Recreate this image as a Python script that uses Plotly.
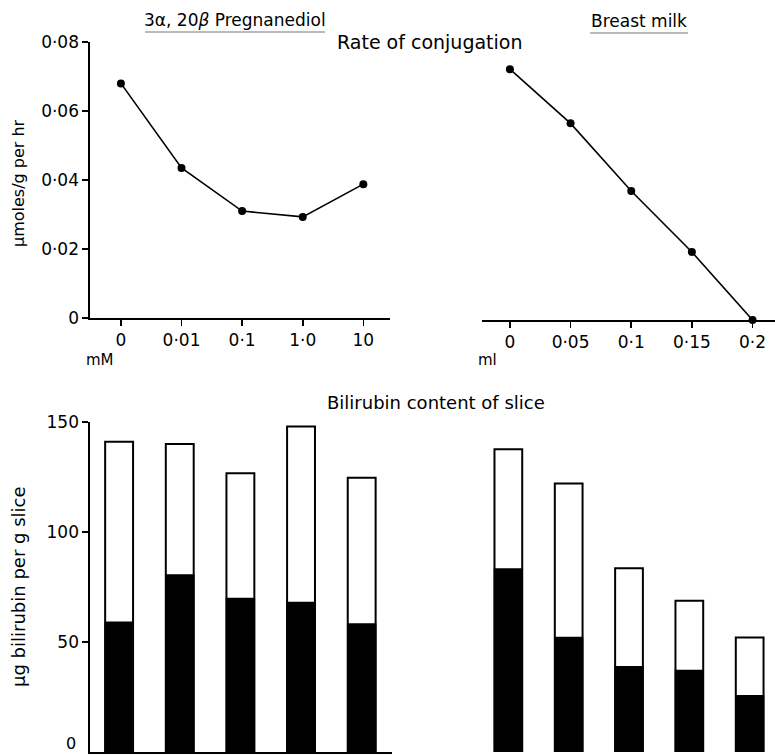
import plotly.graph_objects as go

# ---- data ----
preg_conc = ["0", "0·01", "0·1", "1·0", "10"]
preg_rate = [0.068, 0.0435, 0.031, 0.0293, 0.0388]

milk_vol = ["0", "0·05", "0·1", "0·15", "0·2"]
milk_rate = [0.0727, 0.057, 0.0374, 0.0197, 0.0]

preg_total = [141, 140, 126.7, 147.9, 124.7]
preg_conj = [59, 80.5, 69.8, 67.9, 58.2]

milk_total = [137.6, 122.1, 83.5, 68.8, 52]
milk_conj = [83.2, 52, 38.8, 37, 25.6]

rate_ticks = [0, 0.02, 0.04, 0.06, 0.08]
rate_ticktext = ["0", "0·02", "0·04", "0·06", "0·08"]
bili_ticks = [0, 50, 100, 150]

FONT = "DejaVu Sans"
W, H = 775, 755

def px(x):
    return x / W

def py(y):
    return 1 - y / H

fig = go.Figure()

line_style = dict(color="black", width=1.6)
marker_style = dict(color="black", size=8)

fig.add_trace(go.Scatter(x=preg_conc, y=preg_rate, mode="lines+markers",
                         line=line_style, marker=marker_style,
                         xaxis="x", yaxis="y", cliponaxis=False, showlegend=False))
fig.add_trace(go.Scatter(x=milk_vol, y=milk_rate, mode="lines+markers",
                         line=line_style, marker=marker_style,
                         xaxis="x2", yaxis="y2", cliponaxis=False, showlegend=False))

bar_w = 0.46
open_bar = dict(color="white", line=dict(color="black", width=2))
solid_bar = dict(color="black", line=dict(color="black", width=1.5))

fig.add_trace(go.Bar(x=preg_conc, y=preg_total, width=bar_w, marker=open_bar,
                     xaxis="x3", yaxis="y3", showlegend=False))
fig.add_trace(go.Bar(x=preg_conc, y=preg_conj, width=bar_w, marker=solid_bar,
                     xaxis="x3", yaxis="y3", showlegend=False))
fig.add_trace(go.Bar(x=milk_vol, y=milk_total, width=bar_w, marker=open_bar,
                     xaxis="x4", yaxis="y4", showlegend=False))
fig.add_trace(go.Bar(x=milk_vol, y=milk_conj, width=bar_w, marker=solid_bar,
                     xaxis="x4", yaxis="y4", showlegend=False))

tickfont = dict(family=FONT, size=17, color="black")

common_x = dict(type="category", showgrid=False, zeroline=False, automargin=False,
                showline=True, linecolor="black", linewidth=1.6,
                ticks="outside", ticklen=6, tickwidth=1.6, tickcolor="black",
                tickfont=tickfont, fixedrange=True)

fig.update_layout(
    width=W, height=H,
    margin=dict(l=0, r=0, t=0, b=0, autoexpand=False),
    paper_bgcolor="white", plot_bgcolor="rgba(0,0,0,0)",
    barmode="overlay",
    xaxis=dict(common_x, domain=[px(90), px(390)], range=[-0.51, 4.44], anchor="y"),
    yaxis=dict(domain=[py(318), py(42)], range=[0, 0.08], anchor="x",
               tickvals=rate_ticks, ticktext=rate_ticktext, automargin=False,
               showgrid=False, zeroline=False, showline=True, linecolor="black",
               linewidth=1.6, ticks="outside", ticklen=6, tickwidth=1.6,
               tickcolor="black", tickfont=tickfont, fixedrange=True),
    xaxis2=dict(common_x, domain=[px(482), 1.0], range=[-0.46, 4.37], anchor="y2"),
    yaxis2=dict(domain=[py(320), py(44)], range=[0, 0.08], anchor="x2",
                visible=False, automargin=False, fixedrange=True),
    xaxis3=dict(type="category", domain=[px(90), px(392)], range=[-0.48, 4.5], anchor="y3",
                showgrid=False, zeroline=False, showline=True, linecolor="black",
                linewidth=1.6, ticks="", showticklabels=False, automargin=False,
                fixedrange=True),
    yaxis3=dict(domain=[py(752), py(422)], range=[0, 150], anchor="x3",
                tickvals=bili_ticks[1:], showgrid=False, zeroline=False, showline=True,
                linecolor="black", linewidth=1.6, ticks="outside", ticklen=6,
                tickwidth=1.6, tickcolor="black", tickfont=tickfont,
                automargin=False, fixedrange=True),
    xaxis4=dict(type="category", domain=[px(480), 1.0], range=[-0.47, 4.42], anchor="y4",
                showgrid=False, zeroline=False, showline=False, ticks="",
                showticklabels=False, automargin=False, fixedrange=True),
    yaxis4=dict(domain=[py(752), py(422)], range=[0, 150], anchor="x4",
                visible=False, automargin=False, fixedrange=True),
)

def note(text, x, y, angle=0, size=15):
    fig.add_annotation(text=text, x=px(x), y=py(y), xref="paper", yref="paper",
                       showarrow=False, textangle=angle,
                       font=dict(family=FONT, size=size, color="black"),
                       xanchor="center", yanchor="middle")

note("3α, 20<i>β</i> Pregnanediol", 235, 20, size=17)
note("Breast milk", 639, 21, size=17)
note("Rate of conjugation", 430, 42, size=19)
note("mM", 100, 360, size=15)
note("ml", 487, 360, size=15)
note("Bilirubin content of slice", 436, 402, size=18)
note("μmoles/g per hr", 18, 183, angle=-90, size=16)
note("μg bilirubin per g slice", 18, 587, angle=-90, size=18)
# zero label of the bilirubin axis (sits at the very bottom edge)
fig.add_annotation(text=str(bili_ticks[0]), x=px(78), y=py(755), xref="paper",
                   yref="paper", showarrow=False, xanchor="right", yanchor="bottom",
                   font=dict(family=FONT, size=16, color="black"))

for x0, x1, y in [(145, 325, 32), (590, 688, 33)]:
    fig.add_shape(type="line", xref="paper", yref="paper",
                  x0=px(x0), x1=px(x1), y0=py(y), y1=py(y),
                  line=dict(color="#777777", width=1))

fig.write_html("out.html",
               config={"displayModeBar": False, "staticPlot": True},
               post_script="document.body.style.margin='0px';"
                           "document.body.style.overflow='hidden';")
